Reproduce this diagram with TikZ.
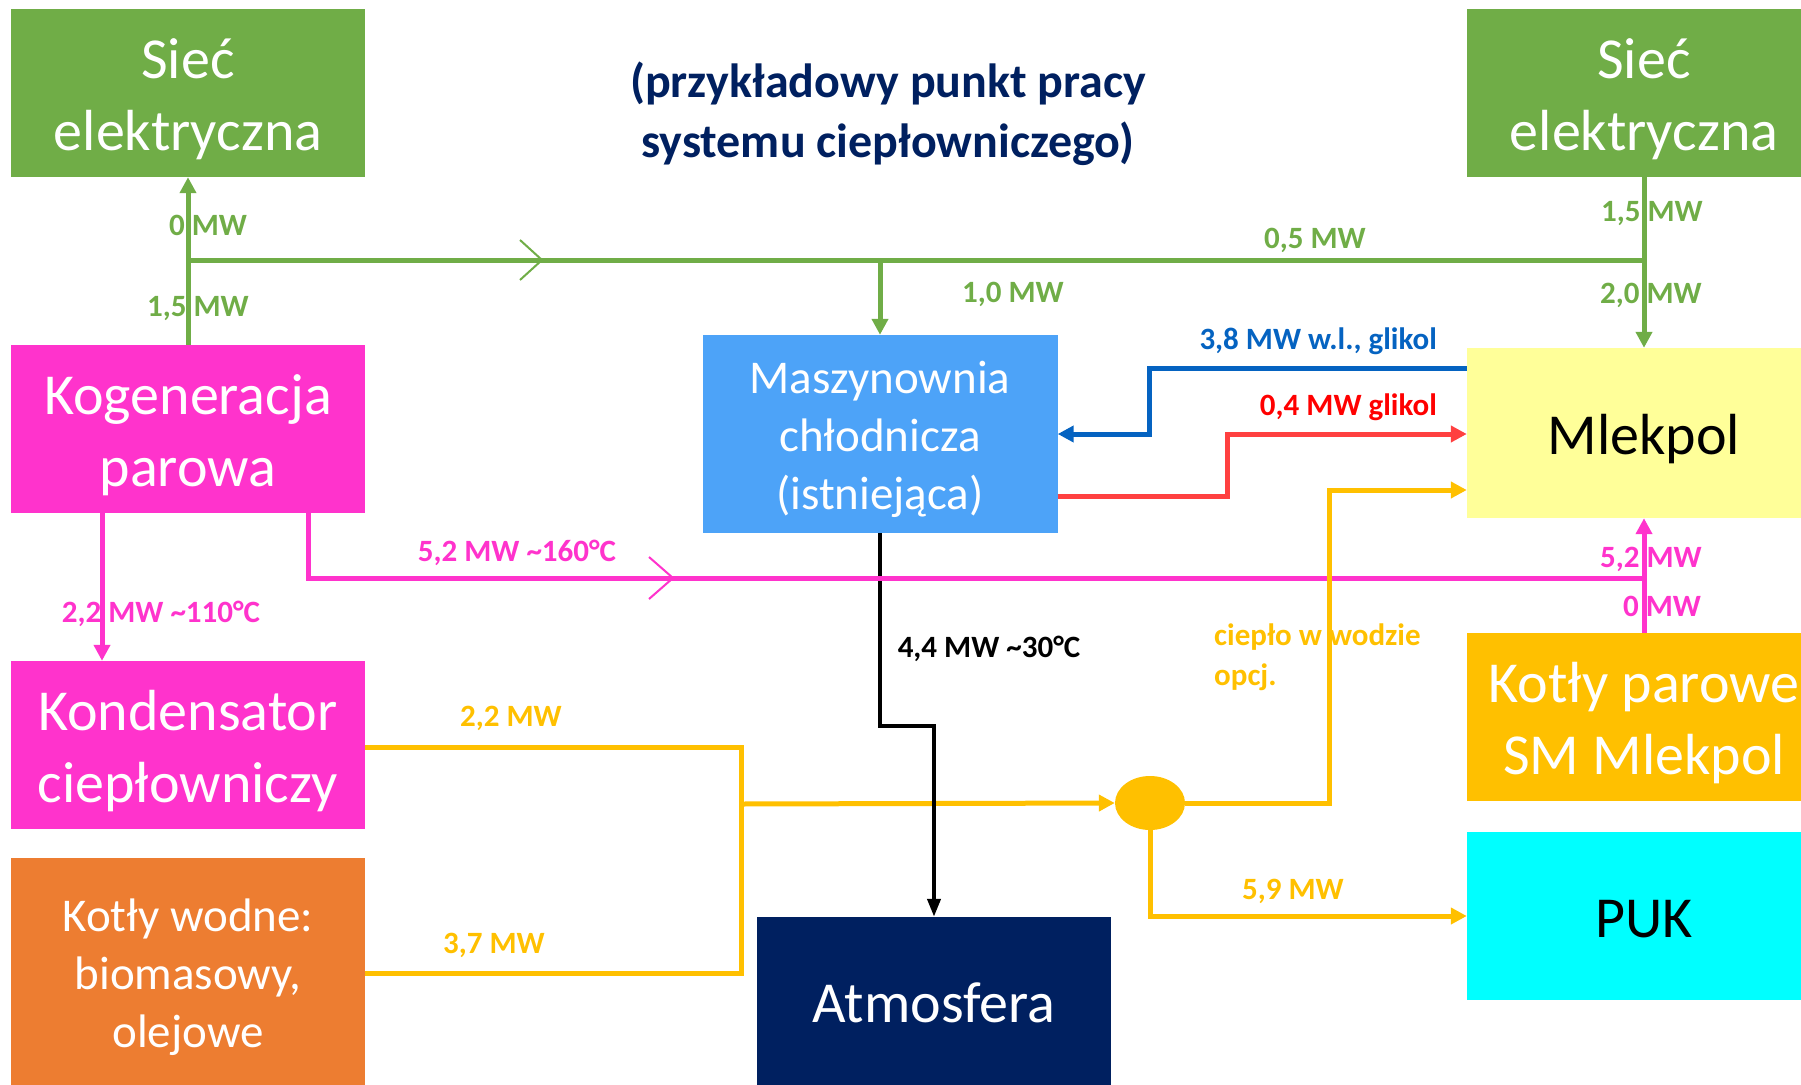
\documentclass[tikz,border=0pt]{standalone}
\usepackage{fontspec}
\setmainfont{Carlito}
\usetikzlibrary{arrows.meta,shapes.geometric}

\definecolor{zielony}{HTML}{70AD47}
\definecolor{rozowy}{HTML}{FF33CC}
\definecolor{pomarancz}{HTML}{ED7D31}
\definecolor{niebieski}{HTML}{4DA3F8}
\definecolor{granat}{HTML}{002060}
\definecolor{zolty}{HTML}{FFFF99}
\definecolor{zloty}{HTML}{FFC000}
\definecolor{cyjan}{HTML}{00FFFF}
\definecolor{linianieb}{HTML}{0563C1}
\definecolor{liniaczer}{HTML}{FF4040}
\definecolor{czerwony}{HTML}{FF0000}

% struts for the box texts
\newcommand{\gora}{\rule{0pt}{1.0em}}
\newcommand{\dol}{\rule[-0.26em]{0pt}{0.26em}}

\tikzset{
  box/.style={rectangle, inner sep=0pt, minimum width=354pt, minimum height=168pt,
    text=white, align=center, font=\fontsize{58}{72}\selectfont},
  smallbox/.style={box, font=\fontsize{47}{58}\selectfont},
  lbl/.style={inner sep=0pt, yshift=-2.5pt, font=\bfseries\fontsize{31}{40}\selectfont},
  flow/.style={line width=5pt},
  tip/.style={-{Triangle[length=16pt,width=16pt]}},
  chev/.style={line width=2pt},
}

\begin{document}
\begin{tikzpicture}[x=1pt, y=-1pt]
        \useasboundingbox (0,0) rectangle (1801,1084);
        % boxes
        \node[box, fill=zielony] (siecL) at (188,93) {\gora Sieć\\elektryczna\dol};
        \node[box, fill=zielony] (siecR) at (1644,93) {\gora Sieć\\elektryczna\dol};
        \node[box, fill=rozowy] (kog) at (188,429) {\gora Kogeneracja\\parowa\dol};
        \node[box, fill=rozowy] (kond) at (188,745) {\gora Kondensator\\ciepłowniczy\dol};
        \node[smallbox, fill=pomarancz, minimum height=228pt] (kotW) at (188,972) {\gora Kotły wodne:\\biomasowy,\\olejowe\dol};
        \node[smallbox, fill=niebieski, minimum width=355pt, minimum height=198pt] (masz) at (880,434) {\gora Maszynownia\\chłodnicza\\(istniejąca)\dol};
        \node[box, fill=granat] (atm) at (934,1001) {\gora Atmosfera\dol};
        \node[box, fill=zolty, text=black, minimum height=170pt] (mlek) at (1644,433) {\gora Mlekpol\dol};
        \node[box, fill=zloty] (kotP) at (1644,717) {\gora Kotły parowe\\SM Mlekpol\dol};
        \node[box, fill=cyjan, text=black] (puk) at (1644,916) {\gora PUK\dol};
        \node[ellipse, fill=zloty, inner sep=0pt, minimum width=70pt, minimum height=54pt] (hub) at (1150,803) {};
        \node[granat, align=center, font=\bfseries\fontsize{48}{60}\selectfont] (tytul) at (888,114) {(przykładowy punkt pracy\\systemu ciepłowniczego)};

        % electricity
        \coordinate (gL) at (188,260);
        \coordinate (gM) at (880,260);
        \coordinate (gR) at (1644,260);
        \coordinate (gArr) at (542,260);
        \draw[flow, zielony, tip] (kog.north) -- (siecL.south);
        \draw[flow, zielony] (gL) -- (gR);
        \draw[flow, zielony, tip] (gM) -- (masz.north);
        \draw[flow, zielony, tip] (siecR.south) -- (mlek.north);
        \draw[chev, zielony] ([shift={(-22,-20)}]gArr) -- (gArr) -- ([shift={(-22,20)}]gArr);
        \node[lbl, zielony] (e1) at (208,223) {0 MW};
        \node[lbl, zielony] (e2) at (198,306) {1,5 MW};
        \node[lbl, zielony] (e3) at (1315,238) {0,5 MW};
        \node[lbl, zielony] (e4) at (1013,292) {1,0 MW};
        \node[lbl, zielony] (e5) at (1652,211) {1,5 MW};
        \node[lbl, zielony] (e6) at (1651,293) {2,0 MW};

        % cooling
        \draw[flow, linianieb, tip] (mlek.west |- 0,368) -- (1149,368) -- (1149,434) -- (masz.east |- 0,434);
        \draw[flow, liniaczer, tip] (masz.east |- 0,496) -- (1227,496) -- (1227,434) -- (mlek.west |- 0,434);
        \node[lbl, linianieb, anchor=east] (c1) at (1437,339) {3,8 MW w.l., glikol};
        \node[lbl, czerwony, anchor=east] (c2) at (1437,405) {0,4 MW glikol};

        % hot water
        \draw[flow, zloty] (kond.east |- 0,747) -- (741,747) -- (741,973) -- (kotW.east |- 0,973);
        \draw[flow, zloty, tip] (741,804) -- (hub.west);
        \draw[flow, zloty, tip] (hub.south) |- (puk.west);
        \node[lbl, zloty] (w1) at (511,716) {2,2 MW};
        \node[lbl, zloty] (w2) at (494,943) {3,7 MW};
        \node[lbl, zloty] (w3) at (1293,889) {5,9 MW};

        % waste heat
        \draw[line width=4pt, -{Triangle[length=18pt,width=13pt]}] (masz.south) -- (880,726) -- (934,726) -- (atm.north);
        \node[lbl] (a1) at (989,646) {4,4 MW \textasciitilde30°C};

        % steam
        \coordinate (pL) at (308,578);
        \coordinate (pR) at (1644,578);
        \coordinate (pArr) at (673,578);
        \draw[flow, rozowy] (kog.south -| pL) -- (pL) -- (pR);
        \draw[flow, rozowy, tip] (kotP.north) -- (mlek.south);
        \draw[flow, rozowy, tip] (kog.south -| 102,0) -- (kond.north -| 102,0);
        \draw[chev, rozowy] ([shift={(-24,-21)}]pArr) -- (pArr) -- ([shift={(-24,21)}]pArr);
        \node[lbl, rozowy] (s1) at (517,550) {5,2 MW \textasciitilde160°C};
        \node[lbl, rozowy] (s2) at (161,611) {2,2 MW \textasciitilde110°C};
        \node[lbl, rozowy] (s3) at (1651,557) {5,2 MW};
        \node[lbl, rozowy] (s4) at (1662,604) {0 MW};

        % optional heat to Mlekpol
        \draw[flow, zloty, tip] (hub.east) -- (1329,803) -- (1329,490) -- (mlek.west |- 0,490);
        \node[lbl, zloty, align=left, anchor=west] (o1) at (1214,655) {ciepło w wodzie\\opcj.};
\end{tikzpicture}
\end{document}
